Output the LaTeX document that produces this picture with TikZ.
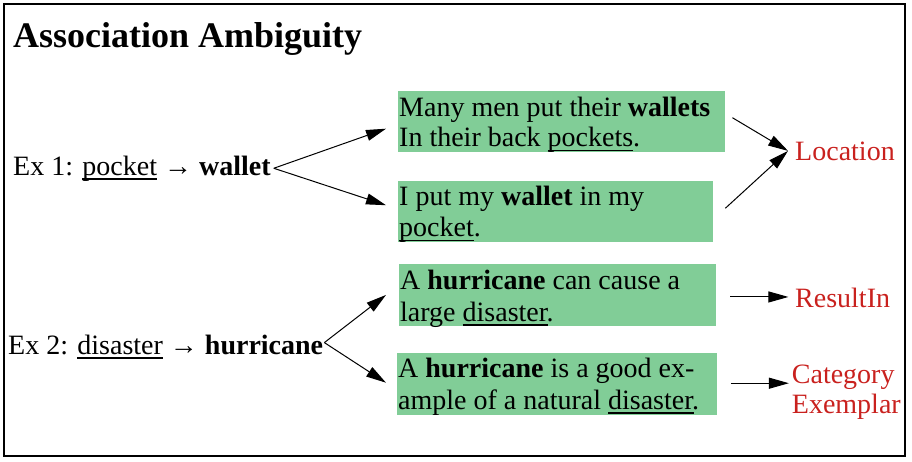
\documentclass[tikz,border=0pt]{standalone}
\usepackage{fontspec}
\setmainfont{Liberation Serif}
\usetikzlibrary{arrows.meta,calc}
\definecolor{boxgreen}{RGB}{129,205,151}
\definecolor{relred}{RGB}{201,33,30}
\newlength\myulw
\newcommand\myul[1]{\settowidth\myulw{#1}\rlap{\rule[-4.6pt]{\myulw}{1.6pt}}#1}
\begin{document}
\begin{tikzpicture}[x=1pt,y=-1pt,
 txt/.style={font=\fontsize{28}{30}\selectfont, inner sep=0pt, anchor=base west},
 title/.style={font=\fontsize{36}{40}\selectfont\bfseries, inner sep=0pt, anchor=base west},
 gbox/.style={fill=boxgreen, inner sep=0pt, anchor=north west},
 rel/.style={txt, text=relred},
 arr/.style={-{Triangle[length=20pt,width=11pt]}, line width=1pt}
]
\useasboundingbox (0,0) rectangle (912,461);
\draw[line width=1.2pt] (4,4) rectangle (905,456);
\node[title] (ttl) at (13,47) {Association Ambiguity};

\node[gbox, minimum width=327pt, minimum height=61pt] (b1) at (398,91) {};
\node[gbox, minimum width=315pt, minimum height=61pt] (b2) at (398,181) {};
\node[gbox, minimum width=317pt, minimum height=61.5pt] (b3) at (399,264) {};
\node[gbox, minimum width=319.5pt, minimum height=62pt] (b4) at (397,353) {};

\node[txt] (b1a) at (399,116) {Many men put their \textbf{wallets}};
\node[txt] (b1b) at (399,146.7) {In their back \myul{pockets}.};
\node[txt] (b2a) at (399,205) {I put my \textbf{wallet} in my};
\node[txt] (b2b) at (399,236.7) {\myul{pocket}.};
\node[txt] (b3a) at (400,289.3) {A \textbf{hurricane} can cause a};
\node[txt] (b3b) at (400,321) {large \myul{disaster}.};
\node[txt] (b4a) at (398,377.7) {A \textbf{hurricane} is a good ex-};
\node[txt] (b4b) at (398,409) {ample of a natural \myul{disaster}.};

\node[txt] (ex1) at (13,175) {Ex 1: \myul{pocket} → \textbf{wallet}};
\node[txt] (ex2) at (8,354) {Ex 2: \myul{disaster} → \textbf{hurricane}};

\node[rel] (loc) at (795,160) {Location};
\node[rel] (res) at (795,307.7) {ResultIn};
\node[rel] (cat) at (791.7,383) {Category};
\node[rel] (exe) at (791.7,413) {Exemplar};

\draw[arr] ($(ex1.east)+(3,0)$) -- ($(b1.west)+(-12,7)$);
\draw[arr] ($(ex1.east)+(3,0)$) -- ($(b2.west)+(-12,-6.5)$);
\draw[arr] ($(ex2.east)+(1,-4)$) -- ($(b3.west)+(-13,0)$);
\draw[arr] ($(ex2.east)+(1,-4)$) -- ($(b4.west)+(-11,-1.5)$);

\draw[arr] ($(b1.east)+(7,-4)$) -- ($(loc.west)+(-7,0)$);
\draw[arr] ($(b2.east)+(12,-3.5)$) -- ($(loc.west)+(-7,0)$);
\draw[arr] ($(b3.east)+(14,2)$) -- ($(b3.east)+(72,2)$);
\draw[arr] ($(b4.east)+(14,-1)$) -- ($(b4.east)+(72,-1)$);
\end{tikzpicture}
\end{document}
